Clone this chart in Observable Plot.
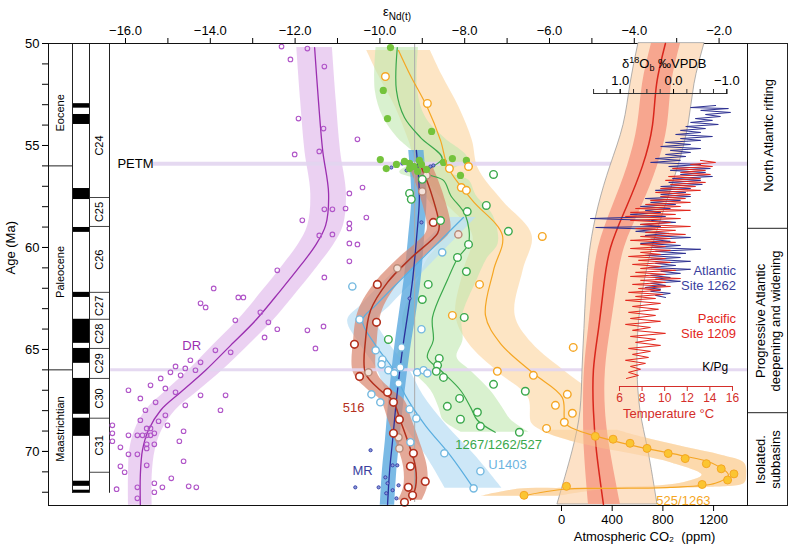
<!DOCTYPE html>
<html><head><meta charset="utf-8">
<script src="https://cdn.jsdelivr.net/npm/d3@7"></script>
<script src="https://cdn.jsdelivr.net/npm/@observablehq/plot@0.6"></script>
<style>
body{margin:0;background:#fff;}
#chart{position:relative;width:788px;height:548px;}
#chart svg{position:absolute;left:0;top:0;}
</style></head><body><div id="chart"></div>
<script>
// ---------- DATA ----------
// DR (purple) smoothed curve: age (Ma), eNd, band lo/hi
const drAge = [50.2,52.79,55.24,57.35,58.92,59.90,60.88,62.10,63.57,64.80,66.02,67.10,67.98,68.96,69.94,71.17,72.64];
const drNd  = [-11.54,-11.45,-11.35,-11.21,-11.28,-11.52,-11.87,-12.34,-12.93,-13.52,-14.11,-14.70,-15.17,-15.46,-15.60,-15.65,-15.65];
const drLo  = [-11.96,-11.87,-11.77,-11.63,-11.70,-11.94,-12.29,-12.76,-13.35,-13.94,-14.51,-15.08,-15.52,-15.78,-15.90,-15.93,-15.93];
const drHi  = [-11.12,-11.03,-10.93,-10.79,-10.86,-11.10,-11.45,-11.92,-12.51,-13.10,-13.71,-14.32,-14.82,-15.14,-15.30,-15.37,-15.37];
const drDots = [[50.15,-12.32],[50.25,-11.71],[50.78,-12.11],[51.13,-11.31],[53.68,-11.92],[54.17,-11.33],[54.70,-10.53],[55.29,-11.43],[55.44,-12.01],[57.06,-10.41],[57.35,-10.72],[58.13,-11.31],[58.13,-11.12],[58.09,-10.81],[58.53,-10.32],[58.67,-11.83],[58.82,-10.72],[59.07,-10.72],[59.41,-11.43],[59.36,-11.12],[59.80,-10.72],[59.85,-10.53],[60.68,-10.72],[61.12,-12.42],[61.47,-11.31],[62.01,-13.92],[62.45,-13.34],[62.45,-13.22],[62.74,-14.23],[62.94,-14.11],[63.18,-12.82],[63.57,-13.41],[63.67,-12.63],[64.01,-12.42],[64.06,-11.71],[63.87,-11.33],[64.41,-12.72],[64.95,-11.52],
[65.04,-13.88],[65.14,-13.52],[65.53,-14.47],[65.63,-14.23],[65.83,-14.82],[65.93,-14.59],[66.02,-14.35],[66.12,-14.94],[66.27,-14.70],[66.42,-15.17],[66.76,-15.41],[66.91,-15.06],[67.10,-14.82],[67.25,-14.23],[67.40,-15.65],[67.59,-15.29],[67.98,-15.53],[67.74,-14.59],[67.25,-13.64],[67.98,-13.76],[68.23,-15.06],[68.47,-15.65],[67.00,-15.93],
[68.72,-16.31],[69.11,-16.31],[69.50,-16.31],[69.21,-15.93],[69.21,-15.72],[69.21,-15.60],[69.21,-15.50],[69.21,-15.41],[69.11,-15.32],[68.87,-15.50],[68.87,-15.41],[68.52,-15.22],[68.72,-15.01],[69.01,-14.63],[69.80,-16.12],[70.14,-15.93],[70.14,-15.72],[69.65,-15.50],[69.85,-15.50],[69.65,-15.32],[69.50,-14.73],[70.48,-14.63],[70.73,-16.12],[71.02,-16.02],[70.68,-15.50],[71.32,-14.92],[71.56,-15.32],[71.76,-15.13],[72.00,-15.32],[71.85,-16.21],[71.76,-15.72],[72.30,-15.72],[71.71,-14.51],[71.76,-14.33]];

// MR (navy)
const mrAge = [55.24,56.47,57.69,59.65,61.61,63.08,65.04,67.49,69.45,70.92,72.64];
const mrNd  = [-9.14,-9.09,-9.07,-9.14,-9.23,-9.33,-9.47,-9.61,-9.70,-9.77,-9.82];
const mrLo  = [-9.32,-9.27,-9.25,-9.33,-9.43,-9.53,-9.66,-9.79,-9.87,-9.94,-9.99];
const mrHi  = [-8.96,-8.91,-8.89,-8.95,-9.03,-9.13,-9.28,-9.43,-9.53,-9.60,-9.65];
const mrDots = [[58.77,-9.02],[69.94,-10.22],[71.76,-10.58],[71.76,-10.03],[71.27,-9.87],[70.68,-9.70],[70.68,-9.59],[71.56,-9.82],[71.66,-9.56],[72.05,-9.85],[72.30,-9.61],[71.90,-9.70],[62.50,-9.30],[55.88,-9.47],[56.22,-9.37],[56.08,-9.73],[55.98,-8.74],[56.03,-8.81]];

// U1403 (light blue)
const uAge = [58.53,60.14,61.61,62.84,63.57,64.80,65.93,67.25,68.72,70.19,71.81];
const uNd  = [-8.03,-8.81,-9.52,-10.10,-10.41,-10.10,-9.70,-9.40,-8.93,-8.34,-7.79];
const uLo  = [-8.33,-9.14,-9.87,-10.45,-10.76,-10.45,-10.08,-9.82,-9.43,-8.92,-8.46];
const uHi  = [-7.73,-8.48,-9.17,-9.75,-10.06,-9.75,-9.32,-8.98,-8.43,-7.76,-7.12];
const uDots = [[61.91,-10.65],[63.53,-10.48],[65.04,-10.10],[65.49,-9.94],[65.73,-9.96],[66.02,-9.80],[66.17,-9.66],[65.88,-9.52],[64.90,-9.49],[66.66,-9.56],[67.20,-10.20],[67.59,-9.99],[67.93,-9.30],[68.38,-9.14],[69.55,-9.28],[70.09,-8.48],[70.97,-7.63],[71.81,-7.79],[66.12,-9.12],[66.02,-8.97],[66.17,-8.88],[64.01,-9.02],[60.24,-8.53]];

// Site 516 (red-brown)
const s516Age = [55.98,57.20,58.92,59.31,60.54,61.71,63.08,64.55,66.17,67.00,67.49,68.47,69.45,70.77,71.76,72.39];
const s516Nd  = [-9.04,-8.81,-8.60,-8.64,-9.28,-9.82,-10.22,-10.34,-10.34,-9.99,-9.70,-9.52,-9.35,-9.16,-9.16,-9.28];
const s516Lo  = [-9.32,-9.09,-8.88,-8.92,-9.56,-10.10,-10.50,-10.62,-10.62,-10.27,-9.98,-9.80,-9.63,-9.44,-9.44,-9.56];
const s516Hi  = [-8.76,-8.53,-8.32,-8.36,-9.00,-9.54,-9.94,-10.06,-10.06,-9.71,-9.42,-9.24,-9.07,-8.88,-8.88,-9.00];
const s516Dots = [[58.77,-8.74],[61.81,-10.06],[63.67,-10.08],[64.75,-10.60],[66.32,-10.48],[67.10,-9.82],[67.59,-9.68],[68.43,-9.54],[69.11,-9.68],[70.09,-9.21],[70.73,-9.28],[71.47,-8.93],[71.76,-9.33],[72.15,-9.23],[72.49,-9.42]];
const s516Faded = [[59.36,-8.15],[57.25,-9.00],[56.47,-8.90],[61.02,-9.59],[66.12,-10.27],[69.31,-9.56],[69.85,-9.54]];

// 1267/1262/527 (green)
const gAge = [50.2,52.3,53.63,54.61,55.64,56.32,56.71,57.45,58.43,59.80,60.54,61.61,63.43,64.55,65.39,66.02,67.00,67.84,68.47,69.06];
const gNd  = [-9.59,-9.61,-9.42,-9.04,-8.53,-8.93,-8.50,-8.33,-7.98,-7.91,-8.17,-8.41,-8.76,-8.74,-8.88,-8.57,-8.10,-7.86,-7.70,-7.28];
const gLo  = [-10.09,-10.11,-9.92,-9.59,-9.13,-9.53,-9.10,-8.93,-8.63,-8.61,-8.87,-9.11,-9.46,-9.44,-9.58,-9.27,-8.80,-8.61,-8.50,-8.08];
const gHi  = [-9.09,-9.11,-8.92,-8.49,-7.93,-8.33,-7.90,-7.73,-7.33,-7.21,-7.47,-7.71,-8.06,-8.04,-8.18,-7.87,-7.40,-7.11,-6.90,-6.48];
const gDots = [[58.68,-8.57],[58.24,-7.94],[59.85,-7.91],[60.49,-8.17],[61.18,-7.96],[61.81,-8.86],[62.55,-9.00],[63.43,-8.01],[64.51,-9.80],[65.44,-8.60],[65.78,-8.64],[66.07,-8.67],[66.37,-8.50],[66.71,-7.32],[67.40,-8.12],[67.79,-8.41],[68.08,-7.70],[68.42,-8.10],[68.77,-7.63],[69.06,-6.71],[67.05,-6.57],[57.94,-7.49],[59.21,-6.97],[56.42,-7.32],[57.35,-9.30],[57.64,-9.26],[56.66,-9.00]];
const gFilled = [[55.69,-9.99],[56.13,-9.85],[55.93,-9.61],[55.88,-9.30],[56.03,-9.23],[56.13,-9.30],[56.03,-9.19],[56.27,-9.11],[55.93,-9.02],[56.18,-8.90],[50.20,-9.75],[52.30,-9.92],[53.68,-9.82],[54.31,-8.78],[55.64,-8.29],[55.73,-7.96],[55.83,-8.50],[56.47,-8.10],[55.78,-9.42],[55.73,-9.07]];

// 525/1263 (orange)
const oAge = [50.34,51.57,53.14,54.75,56.13,57.69,59.41,61.12,63.33,64.70,66.17,67.35,68.62,68.96,69.31,69.80,70.19,70.58,71.17,71.56,71.76,71.81,71.84,72.20];
const oNd  = [-9.56,-9.28,-8.88,-8.57,-8.38,-7.82,-7.11,-7.32,-7.51,-7.16,-6.38,-5.70,-5.62,-5.34,-4.80,-3.85,-2.91,-2.16,-1.78,-2.09,-3.15,-4.56,-5.62,-6.69];
const oLo  = [-10.31,-10.03,-9.63,-9.32,-9.08,-8.52,-7.81,-8.02,-8.21,-7.91,-7.18,-6.50,-6.42,-6.20,-5.80,-4.90,-3.90,-3.10,-2.40,-2.90,-4.30,-5.70,-6.70,-7.60];
const oHi  = [-8.81,-8.53,-8.13,-7.82,-7.68,-7.12,-6.41,-6.62,-6.81,-6.41,-5.58,-4.90,-4.82,-4.40,-3.80,-2.80,-1.95,-1.40,-1.35,-1.40,-2.20,-3.50,-4.60,-5.80];
const oDots = [[59.46,-6.17],[61.81,-7.65],[63.33,-8.29],[64.90,-5.44],[66.07,-7.23],[66.27,-6.38],[67.20,-5.58],[67.74,-5.86],[68.13,-5.46],[68.57,-5.65],[68.87,-6.07],[52.94,-8.88],[56.13,-8.36],[56.03,-7.91],[57.06,-8.08],[57.20,-7.96],[51.62,-9.87]];
const oFilled = [[69.26,-4.92],[69.40,-4.50],[69.60,-4.10],[69.85,-3.70],[70.10,-3.20],[70.35,-2.80],[70.60,-2.30],[70.85,-1.95],[71.10,-1.65],[71.40,-1.80],[71.62,-2.40],[71.71,-5.60],[72.15,-6.60]];

// Atmospheric CO2 (ppm)
const co2Age     = [50,52,54,56,58,60,62,64,66,68,70,72.6];
const co2Med     = [820,750,718,639,513,387,331,292,252,252,276,331];
const co2OuterLo = [607,544,489,387,292,229,197,181,166,150,87,-32];
const co2OuterHi = [1128,1049,1002,923,820,718,647,607,600,623,686,757];
const co2InnerLo = [710,639,600,521,402,292,245,213,181,174,181,213];
const co2InnerHi = [939,868,836,757,631,497,434,387,347,347,387,465];

// Benthic d18O, Atlantic Site 1262 [age, permil]
const blue1262 = [[53.04,-0.79],[53.14,-0.32],[53.19,-1.03],[53.28,-0.51],[53.38,-1.07],[53.48,-0.60],[53.58,-0.88],[53.68,-0.41],[53.77,-0.73],[53.87,-0.32],[53.97,-0.84],[54.07,-0.23],[54.17,-0.60],[54.26,-0.13],[54.36,-0.51],[54.46,-0.04],[54.56,-0.73],[54.66,-0.13],[54.75,-0.51],[54.85,0.15],[54.95,-0.32],[55.05,0.24],[55.15,-0.51],[55.24,0.06],[55.34,-0.32],[55.44,0.15],[55.54,-0.23],[55.64,0.34],[55.73,-0.13],[55.83,0.43],[55.93,-0.51],[56.03,0.09],[56.13,-0.69],[56.22,0.06],[56.32,-0.60],[56.42,-0.13],[56.52,-0.73],[56.62,0.02],[56.71,-0.51],[56.81,0.09],[56.91,-0.54],[57.01,0.24],[57.11,-0.32],[57.20,0.34],[57.30,-0.23],[57.40,0.24],[57.50,-0.32],[57.60,0.53],[57.69,-0.13],[57.79,0.43],[57.89,-0.04],[57.99,0.62],[58.09,0.06],[58.18,0.53],[58.28,0.24],[58.38,0.81],[58.48,0.15],[58.58,1.56],[58.67,0.43],[58.77,-0.04],[58.87,0.62],[58.97,0.24],[59.02,1.46],[59.11,0.34],[59.21,0.71],[59.31,0.09],[59.41,0.53],[59.51,-0.32],[59.60,0.43],[59.70,0.06],[59.80,0.62],[59.90,-0.13],[60.00,0.43],[60.09,-0.51],[60.19,0.34],[60.29,-0.23],[60.39,0.53],[60.49,-0.13],[60.58,0.43],[60.68,-0.32],[60.78,0.34],[60.88,-0.04],[60.98,0.47],[61.07,-0.32],[61.17,0.24],[61.27,-0.13],[61.37,0.43],[61.47,0.06],[61.56,0.34],[61.66,-0.13],[61.76,0.43],[61.86,0.15],[61.96,0.53],[62.05,0.24],[62.15,0.43],[62.25,0.06],[62.35,0.34],[62.45,0.15]];

// Temperature, Pacific Site 1209 [age, degC]
const red1209 = [[55.73,13.17],[55.83,14.50],[55.93,12.28],[56.03,14.23],[56.13,10.69],[56.22,13.61],[56.32,11.40],[56.42,14.05],[56.52,10.34],[56.62,13.17],[56.71,10.07],[56.81,13.61],[56.91,10.51],[57.01,12.73],[57.11,9.63],[57.20,13.17],[57.30,9.19],[57.40,12.28],[57.50,9.63],[57.60,11.84],[57.69,8.74],[57.79,12.28],[57.89,8.30],[57.99,11.40],[58.09,7.42],[58.18,12.28],[58.28,6.97],[58.38,10.96],[58.48,6.53],[58.58,11.40],[58.67,6.97],[58.77,10.51],[58.87,7.86],[58.97,12.28],[59.07,7.42],[59.16,10.96],[59.26,8.30],[59.36,11.84],[59.46,7.86],[59.56,10.51],[59.65,6.97],[59.75,10.96],[59.85,7.86],[59.95,10.07],[60.05,6.97],[60.14,10.51],[60.24,7.86],[60.34,9.63],[60.44,6.80],[60.54,10.07],[60.63,7.68],[60.73,10.51],[60.83,7.15],[60.93,9.63],[61.03,7.86],[61.12,10.96],[61.22,7.42],[61.32,10.07],[61.42,6.97],[61.52,11.40],[61.61,7.86],[61.71,10.07],[61.81,7.15],[61.91,10.51],[62.01,7.68],[62.10,9.63],[62.20,6.80],[62.30,9.81],[62.40,7.42],[62.50,9.19],[62.59,6.53],[62.74,9.63],[62.89,7.15],[63.03,9.45],[63.18,6.80],[63.33,9.19],[63.48,6.97],[63.62,9.63],[63.77,6.53],[63.92,8.74],[64.06,7.15],[64.21,10.07],[64.36,6.97],[64.50,9.19],[64.65,7.42],[64.80,9.63],[64.95,6.80],[65.09,8.74],[65.24,7.15],[65.39,8.57],[65.53,6.53],[65.68,8.30],[65.83,6.97],[65.97,7.86],[66.12,6.80],[66.27,7.68],[66.42,6.62]];

// Stratigraphy
const epochs = [["Eocene",53.4],["Paleocene",61.2],["Maastrichtian",68.9]];
const epochBounds = [56.0, 66.0];
const chronBounds = [57.55,58.97,62.2,63.52,64.95,66.42,68.37,71.02];
const chronLabels = [["C24",55.0],["C25",58.26],["C26",60.6],["C27",62.86],["C28",64.23],["C29",65.68],["C30",67.4],["C31",69.7]];
const normals = [[52.95,53.17],[53.48,53.97],[57.11,57.65],[59.02,59.26],[62.20,62.45],[63.52,64.70],[64.95,65.68],[66.42,68.18],[68.37,69.26],[71.46,71.71],[71.90,72.05]];
const tectBounds = [59.06, 68.1];
const tectLabels = [["North Atlantic rifting",54.5],["Progressive Atlantic\ndeepening and widening",63.6],["Isolated.\nsubbasins",70.4]];
const events = [["PETM",55.9],["K/Pg",66.0]];

// ---------- HELPERS ----------
const W = 788, H = 548;
const FONT = "'Liberation Sans', Arial, Helvetica, sans-serif";
const AGE = [50, 72.65];
const ND = [-17.816, -1.33];
const rows = (ages, ...cols) => ages.map((a, i) => ({age: a, v: cols.map(c => c[i])}));
function layer(opts) {
  const svg = Plot.plot(Object.assign({
    width: W, height: H,
    style: {background: "transparent", fontFamily: FONT, fontSize: "13px", overflow: "visible"}
  }, opts));
  document.getElementById("chart").appendChild(svg);
  return svg;
}
const band = (ages, lo, hi, fill, op) => Plot.areaX(rows(ages, lo, hi), {y: "age", x1: d => d.v[0], x2: d => d.v[1], fill, fillOpacity: op, curve: "catmull-rom", clip: true});
const curve = (ages, v, stroke, sw) => Plot.lineX(rows(ages, v), {y: "age", x: d => d.v[0], stroke, strokeWidth: sw, curve: "catmull-rom", clip: true});
const M = {marginLeft: 48, marginRight: 41, marginTop: 43, marginBottom: 43};

// ---------- STRATIGRAPHY LAYER ----------
layer({
  marginLeft: 48, marginRight: W - 109, marginTop: 43, marginBottom: 43,
  x: {domain: [0, 61], axis: null}, y: {domain: AGE, reverse: true, axis: null},
  marks: [
    Plot.rect(normals, {x1: 24, x2: 41, y1: d => d[0], y2: d => d[1], fill: "black"}),
    Plot.ruleY(epochBounds, {x1: 0, x2: 24, stroke: "#222"}),
    Plot.ruleY(chronBounds, {x1: 41, x2: 61, stroke: "#444"}),
    Plot.ruleX([24, 41, 61], {y1: 50, y2: 72.05, stroke: "#222"}),
    Plot.text(epochs, {x: 12, y: d => d[1], text: d => d[0], rotate: -90, fontSize: 11}),
    Plot.text(chronLabels, {x: 51, y: d => d[1], text: d => d[0], rotate: -90, fontSize: 11})
  ]
});

// ---------- RIGHT TECTONIC PANEL ----------
layer({
  marginLeft: 747, marginRight: 1, marginTop: 43, marginBottom: 43,
  x: {domain: [0, 1], axis: null}, y: {domain: AGE, reverse: true, axis: null},
  marks: [
    Plot.frame({stroke: "#222"}),
    Plot.ruleY(tectBounds, {stroke: "#222"}),
    Plot.text(tectLabels, {x: 0.5, y: d => d[1], text: d => d[0], rotate: -90, fontSize: 13, lineHeight: 1.2})
  ]
});

// ---------- MAIN eNd LAYER ----------
layer({
  ...M,
  x: {domain: ND}, y: {domain: AGE, reverse: true},
  marks: [
    band(oAge, oLo, oHi, "#fcd39c", 0.6),
    band(gAge, gLo, gHi, "#bfe7af", 0.6),
    band(uAge, uLo, uHi, "#bcdff4", 0.75),
    band(mrAge, mrLo, mrHi, "#5aa9de", 0.8),
    band(s516Age, s516Lo, s516Hi, "#d9846c", 0.7),
    band(drAge, drLo, drHi, "#e9ccf1", 0.9),
    Plot.ruleY([events[0][1]], {x1: -15.34, x2: -1.33, stroke: "#e2d5ef", strokeWidth: 4, strokeOpacity: 0.9}),
    Plot.ruleY([events[1][1]], {x1: -16.35, x2: -1.33, stroke: "#e2d5ef", strokeWidth: 3, strokeOpacity: 0.9}),
    Plot.ruleX([-9.18], {y1: 50, y2: 72.5, stroke: "#aaa", strokeWidth: 1}),
    curve(gAge, gNd, "#3aa84b", 1.2),
    curve(uAge, uNd, "#5aaee0", 1.2),
    curve(mrAge, mrNd, "#2b2f9c", 1.3),
    curve(s516Age, s516Nd, "#b3301d", 1.5),
    curve(drAge, drNd, "#9b2fb0", 1.3),
    Plot.dot(drDots, {x: d => d[1], y: d => d[0], r: 2.3, stroke: "#b055c8", strokeWidth: 1.1, fill: "none"}),
    Plot.dot(mrDots, {x: d => d[1], y: d => d[0], r: 1.6, stroke: "#2f3aa5", fill: "#8c98d8", strokeWidth: 0.9}),
    Plot.dot(uDots, {x: d => d[1], y: d => d[0], r: 3.6, stroke: "#74b9e0", strokeWidth: 1.4, fill: "white"}),
    Plot.dot(s516Faded, {x: d => d[1], y: d => d[0], r: 3.6, stroke: "#b98a78", strokeWidth: 1.4, fill: "#f3e2da"}),
    Plot.dot(s516Dots, {x: d => d[1], y: d => d[0], r: 3.8, stroke: "#b3301d", strokeWidth: 1.6, fill: "white"}),
    Plot.dot(gDots, {x: d => d[1], y: d => d[0], r: 3.8, stroke: "#3aa84b", strokeWidth: 1.4, fill: "white"}),
    Plot.dot(gFilled, {x: d => d[1], y: d => d[0], r: 3.6, fill: "#74c33c"}),
    Plot.text(["DR"], {x: -14.44, y: 64.80, fill: "#9b2fb0", fontSize: 13}),
    Plot.text(["516"], {x: -10.62, y: 67.84, fill: "#b3301d", fontSize: 13}),
    Plot.text(["MR"], {x: -10.41, y: 70.97, fill: "#3b3f9e", fontSize: 13}),
    Plot.text(["1267/1262/527"], {x: -7.20, y: 69.70, fill: "#3aa84b", fontSize: 13}),
    Plot.text(["U1403"], {x: -6.99, y: 70.68, fill: "#6cb4e0", fontSize: 13}),
    Plot.text([events[0]], {x: -16.19, y: d => d[1], text: d => d[0], textAnchor: "start", fontSize: 13}),
    Plot.text([events[1]], {x: -2.09, y: 65.85, text: d => d[0], fontSize: 12}),
    Plot.text(["Atlantic\nSite 1262"], {x: -1.6, y: 61.5, textAnchor: "end", fill: "#3b3f9e", fontSize: 13, lineHeight: 1.15}),
    Plot.text(["Pacific\nSite 1209"], {x: -1.6, y: 63.85, textAnchor: "end", fill: "#e2261c", fontSize: 13, lineHeight: 1.15}),
    Plot.axisX({ticks: d3.range(-16, -1, 2), anchor: "top", tickSize: 6, tickFormat: d3.format(".1f"), label: null, fontSize: 13}),
    Plot.axisX({ticks: d3.range(-15, -2, 2), anchor: "top", tickSize: 6, tickFormat: () => "", label: null}),
    Plot.axisY({ticks: [50, 55, 60, 65, 70], anchor: "left", tickSize: 6, label: null, fontSize: 13}),
    Plot.axisY({ticks: d3.range(51, 73), anchor: "left", tickSize: 6, tickFormat: () => "", label: null}),
    Plot.text(["Age (Ma)"], {frameAnchor: "left", dx: -38, rotate: -90, fontSize: 13}),
    Plot.frame({stroke: "#111"})
  ]
});

// ---------- CO2 LAYER ----------
const co2Rows = co2Age.map((a, i) => ({age: a, med: co2Med[i], olo: co2OuterLo[i], ohi: co2OuterHi[i], ilo: co2InnerLo[i], ihi: co2InnerHi[i]}));
layer({
  ...M,
  x: {domain: [-4047, 1467.5]}, y: {domain: AGE, reverse: true, axis: null},
  marks: [
    Plot.areaX(co2Rows, {y: "age", x1: "olo", x2: "ohi", fill: "#fde1c6", stroke: "#9d9d9d", strokeWidth: 0.8, curve: "natural"}),
    Plot.areaX(co2Rows, {y: "age", x1: "ilo", x2: "ihi", fill: "#f7a68f", curve: "natural"}),
    Plot.lineX(co2Rows, {y: "age", x: "med", stroke: "#d9261c", strokeWidth: 1.5, curve: "natural"}),
    Plot.axisX({ticks: [0, 400, 800, 1200], anchor: "bottom", tickSize: 6, tickFormat: d3.format("d"), label: null, fontSize: 13}),
    Plot.text(["Atmospheric CO₂  (ppm)"], {x: 655, frameAnchor: "bottom", dy: 35, fontSize: 13})
  ]
});

// ---------- 525/1263 curve and samples (drawn over the CO2 envelope) ----------
layer({
  ...M,
  x: {domain: ND, axis: null}, y: {domain: AGE, reverse: true, axis: null},
  marks: [
    Plot.areaX(rows(oAge, oLo, oHi).filter(d => d.age >= 68.9), {y: "age", x1: d => d.v[0], x2: d => d.v[1], fill: "#fbc98a", fillOpacity: 0.4, curve: "catmull-rom", clip: true}),
    curve(oAge, oNd, "#f5a623", 1.2),
    Plot.dot(oDots, {x: d => d[1], y: d => d[0], r: 3.8, stroke: "#f5a623", strokeWidth: 1.4, fill: "white"}),
    Plot.dot(oFilled, {x: d => d[1], y: d => d[0], r: 4, fill: "#fbc531", stroke: "#f5a623", strokeWidth: 1}),
    Plot.text(["525/1263"], {x: -2.84, y: 72.40, fill: "#f5a623", fontSize: 13})
  ]
});

// ---------- d18O LAYER (Atlantic Site 1262) ----------
const topD = 50 + (93 - 43) / 20.4;
layer({
  marginLeft: 48, marginRight: 41, marginTop: 93, marginBottom: 43,
  x: {domain: [11.726, -1.388]}, y: {domain: [topD, 72.65], reverse: true, axis: null},
  marks: [
    Plot.lineX(blue1262, {x: d => d[1], y: d => d[0], stroke: "#2e3192", strokeWidth: 1}),
    Plot.ruleY([topD], {x1: 1.5, x2: -1.0, stroke: "#333"}),
    Plot.axisX({ticks: d3.range(-1, 1.51, 0.25), anchor: "top", tickSize: 5, tickFormat: () => "", label: null, stroke: "#333"}),
    Plot.axisX({ticks: [1, 0, -1], anchor: "top", tickSize: 5, tickFormat: d3.format(".1f"), label: null, fontSize: 13})
  ]
});

// ---------- TEMPERATURE LAYER (Pacific Site 1209) ----------
const botT = 50 + (386 - 43) / 20.4;
layer({
  marginLeft: 48, marginRight: 41, marginTop: 43, marginBottom: H - 386,
  x: {domain: [-44.53, 17.33]}, y: {domain: [50, botT], reverse: true, axis: null},
  marks: [
    Plot.lineX(red1209, {x: d => d[1], y: d => d[0], stroke: "#e2261c", strokeWidth: 1}),
    Plot.ruleY([botT], {x1: 6, x2: 16, stroke: "#d42e2a"}),
    Plot.axisX({ticks: [6, 8, 10, 12, 14, 16], anchor: "bottom", tickSize: 5, tickPadding: 2, label: null, color: "#d42e2a", fontSize: 12}),
    Plot.text(["Temperature °C"], {x: 10.34, frameAnchor: "bottom", dy: 31, fill: "#d42e2a", fontSize: 13})
  ]
});

// ---------- rich-text titles ----------
const overlay = d3.select("#chart").append("svg").attr("width", W).attr("height", H)
  .style("position", "absolute").style("left", 0).style("top", 0).style("font-family", FONT).style("pointer-events", "none");
const t1 = overlay.append("text").attr("x", 383).attr("y", 16).attr("font-size", 13);
t1.append("tspan").text("ε");
t1.append("tspan").attr("font-size", 10).attr("dy", 4).text("Nd(t)");
const t2 = overlay.append("text").attr("x", 622).attr("y", 68).attr("font-size", 13);
t2.append("tspan").text("δ");
t2.append("tspan").attr("font-size", 9).attr("dy", -5).text("18");
t2.append("tspan").attr("dy", 5).text("O");
t2.append("tspan").attr("font-size", 9).attr("dy", 3).text("b");
t2.append("tspan").attr("dy", -3).text(" ‰VPDB");
</script></body></html>
